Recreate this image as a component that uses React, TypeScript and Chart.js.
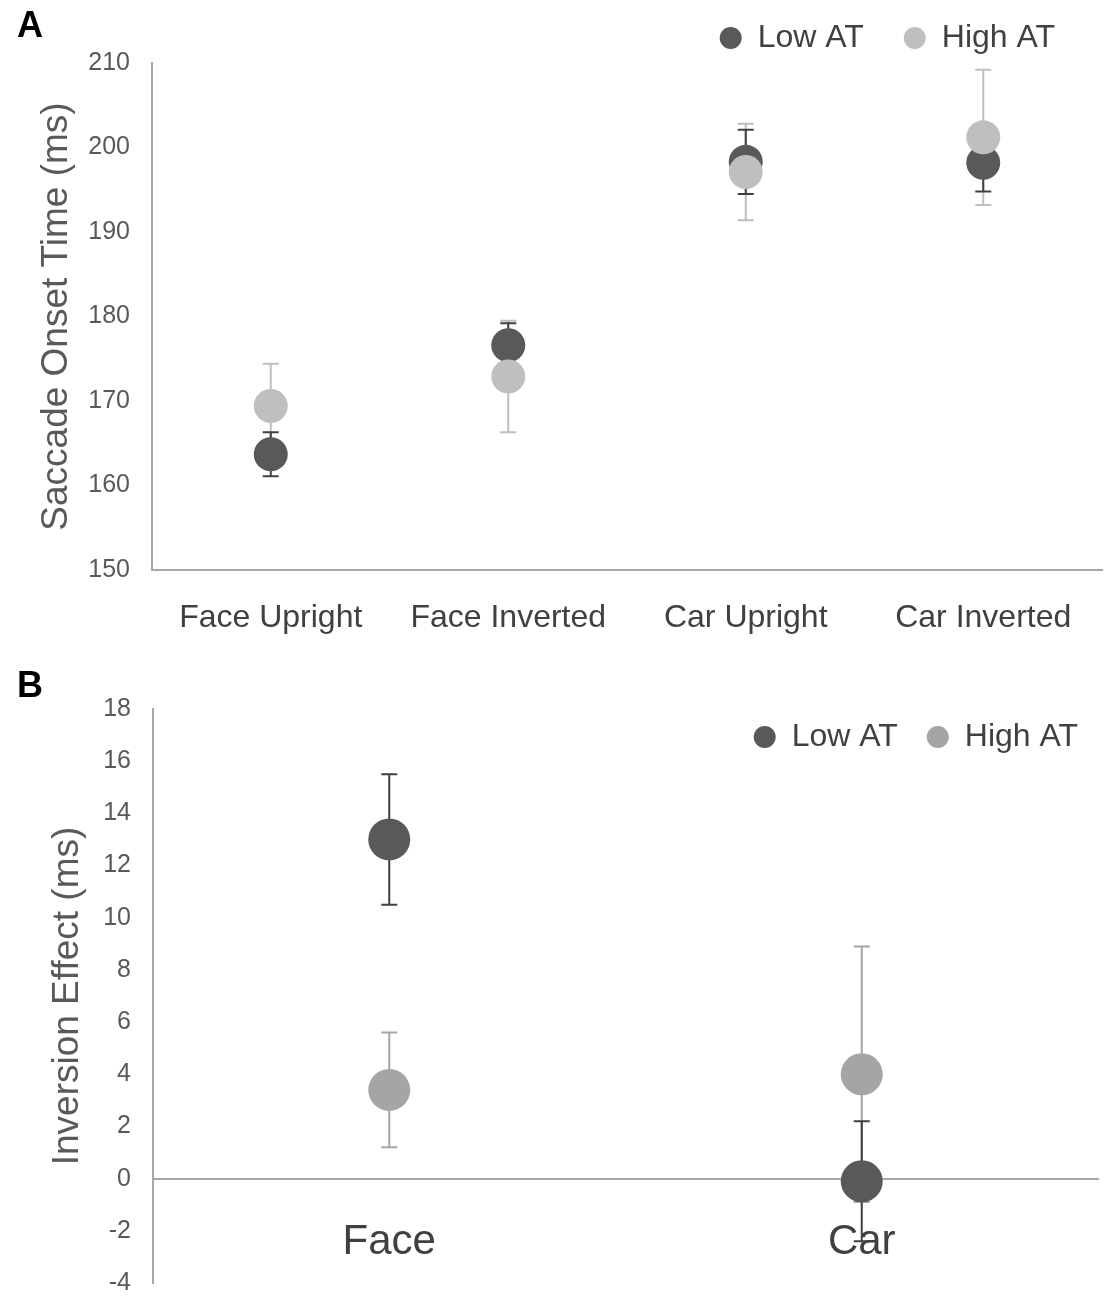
import React, { useEffect, useRef } from 'react';
import { Chart, registerables } from 'chart.js';

Chart.register(...registerables);

const FONT = "'Liberation Sans', Arial, sans-serif";
const DARK = '#595959';
const DARK_BAR = '#404040';
const LIGHT_A = '#bfbfbf';
const LIGHT_B = '#a5a5a5';
const AXIS = '#a6a6a6';
const TEXT = '#595959';

Chart.defaults.font.family = FONT;

// Panel A - saccade onset time (ms)
const conditions = ['Face Upright', 'Face Inverted', 'Car Upright', 'Car Inverted'];
const onsetLow = [163.7, 176.6, 198.3, 198.2];
const onsetLowErr = [2.6, 2.6, 3.8, 3.4];
const onsetHigh = [169.4, 172.9, 197.1, 201.2];
const onsetHighErr = [5.0, 6.6, 5.7, 8.0];

// Panel B - inversion effect (ms)
const stimuli = ['Face', 'Car'];
const effectLow = [13.0, -0.1];
const effectLowErr = [2.5, 2.3];
const effectHigh = [3.4, 4.0];
const effectHighErr = [2.2, 4.9];

// draws +/- error bars under the markers, using the y scale
const errorBars = {
    id: 'errorBars',
    beforeDatasetsDraw(chart: any, _args: any, opts: any) {
        const { ctx } = chart;
        const y = chart.scales.y;
        const half = opts.capWidth / 2;
        ctx.save();
        ctx.lineWidth = opts.lineWidth;
        for (let di = chart.data.datasets.length - 1; di >= 0; di--) {
            const ds = chart.data.datasets[di];
            const errs = opts.errors[di];
            ctx.strokeStyle = ds.borderColor;
            chart.getDatasetMeta(di).data.forEach((pt: any, i: number) => {
                const v = ds.data[i];
                const top = y.getPixelForValue(v + errs[i]);
                const bot = y.getPixelForValue(v - errs[i]);
                ctx.beginPath();
                ctx.moveTo(pt.x, top);
                ctx.lineTo(pt.x, bot);
                ctx.moveTo(pt.x - half, top);
                ctx.lineTo(pt.x + half, top);
                ctx.moveTo(pt.x - half, bot);
                ctx.lineTo(pt.x + half, bot);
                ctx.stroke();
            });
        }
        ctx.restore();
    }
};

// nudges the legend box after layout (it may sit over the plot area)
const legendOffset = {
    id: 'legendOffset',
    afterLayout(chart: any, _args: any, opts: any) {
        const lg = chart.legend;
        if (!lg) return;
        lg.left += opts.dx || 0;
        lg.right += opts.dx || 0;
        lg.top += opts.dy || 0;
        lg.bottom += opts.dy || 0;
    }
};

const dotSeries = (label: string, data: number[], fill: string, bar: string, radius: number, order: number) => ({
    label,
    data,
    backgroundColor: fill,
    borderColor: bar,
    showLine: false,
    pointRadius: radius,
    pointHoverRadius: radius,
    pointBorderWidth: 0,
    order
});

const legendOptions = (size: number, gap: number) => ({
    display: true,
    position: 'top' as const,
    align: 'end' as const,
    labels: {
        usePointStyle: true,
        pointStyle: 'circle',
        pointStyleWidth: 22,
        boxHeight: 15.5,
        padding: gap,
        color: '#404040',
        font: { family: FONT, size },
        sort: (a: any, b: any) => a.datasetIndex - b.datasetIndex
    }
});

// y axis: labels kept off the axis with an invisible tick length
const valueAxis = (min: number, max: number, step: number, title: string, titleGap: number, width: number) => ({
    min,
    max,
    grid: { display: false, drawTicks: true, tickLength: 22 },
    border: { color: AXIS, width: 2 },
    ticks: { stepSize: step, color: TEXT, font: { family: FONT, size: 25 }, padding: 0 },
    title: {
        display: true,
        text: title,
        color: TEXT,
        font: { family: FONT, size: 37 },
        padding: { top: titleGap, bottom: 0 }
    },
    afterFit: (s: any) => { s.width = width; }
});

const PanelChart: React.FC<{ height: number; build: () => any }> = ({ height, build }) => {
    const canvasRef = useRef<HTMLCanvasElement>(null);
    const chartRef = useRef<Chart | null>(null);

    useEffect(() => {
        if (!canvasRef.current) return;
        if (chartRef.current) chartRef.current.destroy();
        chartRef.current = new Chart(canvasRef.current, build());
        return () => {
            if (chartRef.current) {
                chartRef.current.destroy();
                chartRef.current = null;
            }
        };
    }, [build]);

    return (
        <div style={{ position: 'relative', width: 1119, height }}>
            <canvas ref={canvasRef} />
        </div>
    );
};

const buildOnset = () => ({
    type: 'line',
    data: {
        labels: conditions,
        datasets: [
            dotSeries('Low AT', onsetLow, DARK, DARK_BAR, 17, 1),
            dotSeries('High AT', onsetHigh, LIGHT_A, LIGHT_A, 17, 0)
        ]
    },
    options: {
        animation: false,
        responsive: true,
        maintainAspectRatio: false,
        events: [],
        layout: { padding: { top: -19, right: 12, left: 0, bottom: 0 } },
        plugins: {
            legend: legendOptions(32, 40),
            legendOffset: { dx: -12, dy: 1 },
            tooltip: { enabled: false },
            errorBars: { errors: [onsetLowErr, onsetHighErr], capWidth: 16, lineWidth: 2 }
        },
        scales: {
            x: {
                offset: true,
                grid: { display: false, drawTicks: false },
                border: { color: AXIS, width: 2 },
                ticks: { color: '#404040', font: { family: FONT, size: 32 }, padding: 29 },
                afterFit: (s: any) => { s.height = 90; }
            },
            y: valueAxis(150, 210, 10, 'Saccade Onset Time (ms)', 35, 152)
        }
    },
    plugins: [errorBars, legendOffset]
});

const buildEffect = () => ({
    type: 'line',
    data: {
        labels: stimuli,
        datasets: [
            dotSeries('Low AT', effectLow, DARK, DARK_BAR, 21, 1),
            dotSeries('High AT', effectHigh, LIGHT_B, LIGHT_B, 21, 0)
        ]
    },
    options: {
        animation: false,
        responsive: true,
        maintainAspectRatio: false,
        events: [],
        layout: { padding: { top: -22, right: 12, left: 0, bottom: 16 } },
        plugins: {
            legend: legendOptions(32, 29),
            legendOffset: { dx: 0, dy: 54 },
            tooltip: { enabled: false },
            errorBars: { errors: [effectLowErr, effectHighErr], capWidth: 16, lineWidth: 2 }
        },
        scales: {
            x: {
                position: { y: 0 },
                offset: true,
                grid: { display: false, drawTicks: false },
                border: { color: AXIS, width: 2 },
                ticks: { color: '#404040', font: { family: FONT, size: 42 }, padding: 39 }
            },
            y: valueAxis(-4, 18, 2, 'Inversion Effect (ms)', 46, 153)
        }
    },
    plugins: [errorBars, legendOffset]
});

const panelLetter: React.CSSProperties = {
    position: 'absolute',
    left: 17,
    fontFamily: FONT,
    fontWeight: 'bold',
    fontSize: 36,
    lineHeight: 1,
    color: '#000'
};

export default function App() {
    return (
        <div style={{ position: 'absolute', left: 0, top: 0, width: 1119, height: 1300, overflow: 'hidden', background: '#fff' }}>
            <div style={{ position: 'absolute', left: 0, top: 0 }}>
                <PanelChart height={660} build={buildOnset} />
            </div>
            <div style={{ position: 'absolute', left: 0, top: 660 }}>
                <PanelChart height={644} build={buildEffect} />
            </div>
            <div style={{ ...panelLetter, top: 7 }}>A</div>
            <div style={{ ...panelLetter, top: 667 }}>B</div>
        </div>
    );
}
